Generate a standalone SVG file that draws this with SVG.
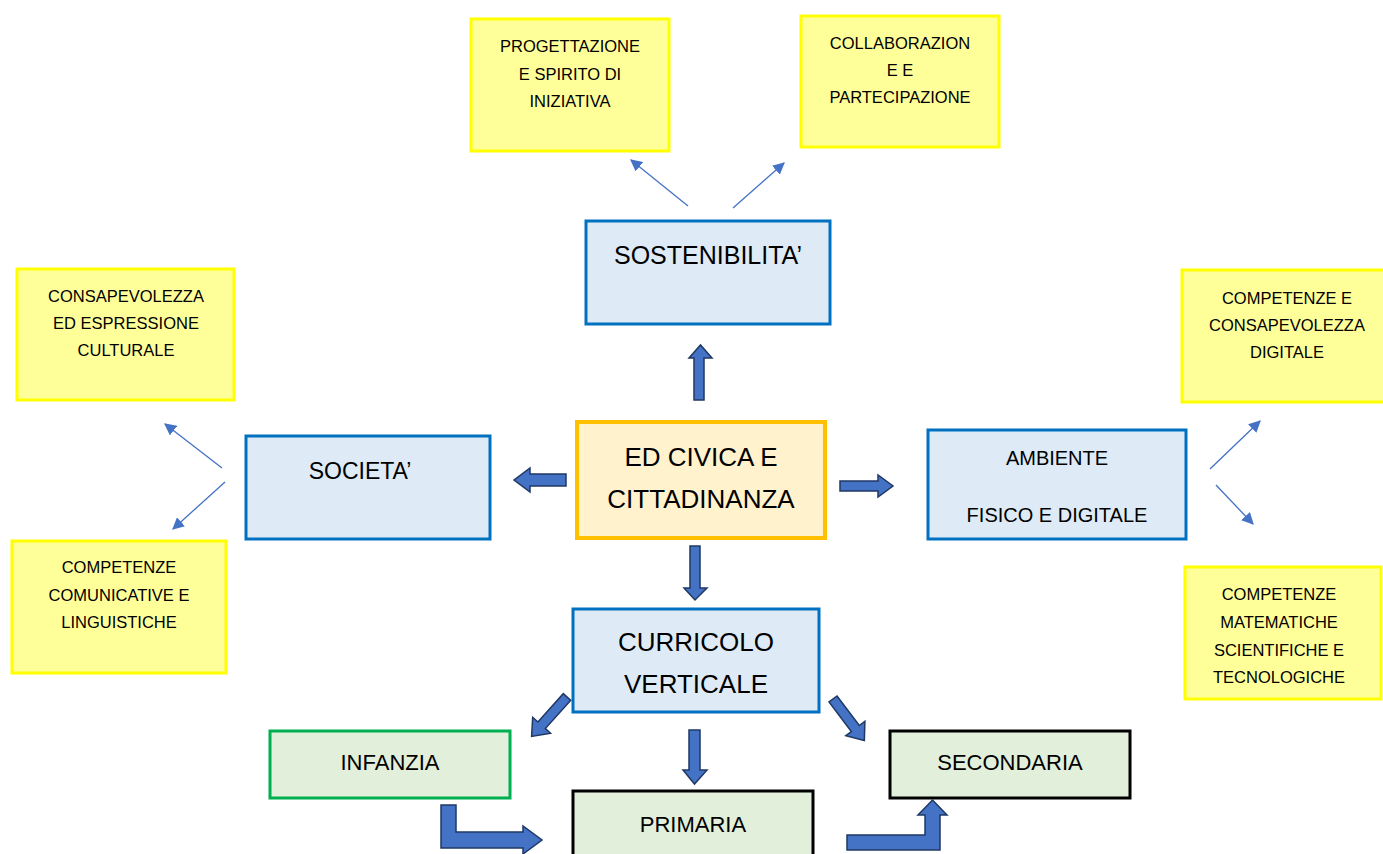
<svg xmlns="http://www.w3.org/2000/svg" width="1383" height="854" viewBox="0 0 1383 854">
<style>
.y{fill:#FFFF99;stroke:#FFFF00;stroke-width:3}
.b{fill:#DEEBF7;stroke:#0070C0;stroke-width:3}
.o{fill:#FFF2CC;stroke:#FFC000;stroke-width:4}
.g{fill:#E2EFDA;stroke:#000;stroke-width:3}
.gg{fill:#E2EFDA;stroke:#00B050;stroke-width:3}
text{font-family:"Liberation Sans",Arial,sans-serif;fill:#000;text-anchor:middle}
.s{font-size:16.5px}
.m{font-size:20px}
.l{font-size:25px}
.xl{font-size:26px}
.ba{fill:#4472C4;stroke:#1F3864;stroke-width:1.5;stroke-linejoin:miter}
.thin{stroke:#4472C4;stroke-width:1.3;fill:none;marker-end:url(#tri)}
</style>
<defs>
<marker id="tri" viewBox="0 0 10 10" refX="9" refY="5" markerWidth="12" markerHeight="12" markerUnits="userSpaceOnUse" orient="auto"><path d="M0,0 L10,5 L0,10 Z" fill="#4472C4"/></marker>
</defs>
<rect width="1383" height="854" fill="#fff"/>

<g id="n-progettazione"><rect class="y" x="471" y="19" width="198" height="132"/>
<text class="s" x="570" y="52">PROGETTAZIONE</text><text class="s" x="570" y="80">E SPIRITO DI</text><text class="s" x="570" y="107">INIZIATIVA</text></g>
<g id="n-collaborazione"><rect class="y" x="801" y="16" width="198" height="131"/>
<text class="s" x="900" y="49">COLLABORAZION</text><text class="s" x="900" y="76">E E</text><text class="s" x="900" y="103">PARTECIPAZIONE</text></g>
<g id="n-consapevolezza"><rect class="y" x="17" y="269" width="217" height="131"/>
<text class="s" x="126" y="302">CONSAPEVOLEZZA</text><text class="s" x="126" y="329">ED ESPRESSIONE</text><text class="s" x="126" y="356">CULTURALE</text></g>
<g id="n-comunicative"><rect class="y" x="12" y="541" width="214" height="132"/>
<text class="s" x="119" y="573">COMPETENZE</text><text class="s" x="119" y="601">COMUNICATIVE E</text><text class="s" x="119" y="628">LINGUISTICHE</text></g>
<g id="n-digitale"><rect class="y" x="1182" y="270" width="220" height="132"/>
<text class="s" x="1287" y="304">COMPETENZE  E</text><text class="s" x="1287" y="331">CONSAPEVOLEZZA</text><text class="s" x="1287" y="358">DIGITALE</text></g>
<g id="n-matematiche"><rect class="y" x="1185" y="567" width="196" height="132"/>
<text class="s" x="1279" y="600">COMPETENZE</text><text class="s" x="1279" y="628">MATEMATICHE</text><text class="s" x="1279" y="656">SCIENTIFICHE E</text><text class="s" x="1279" y="683">TECNOLOGICHE</text></g>

<g id="n-sostenibilita"><rect class="b" x="586" y="221" width="244" height="103"/><text class="l" x="708" y="264">SOSTENIBILITA’</text></g>
<g id="n-societa"><rect class="b" x="246" y="436" width="244" height="103"/><text class="l" x="360" y="479" style="font-size:23px">SOCIETA’</text></g>
<g id="n-ambiente"><rect class="b" x="928" y="430" width="258" height="109"/><text class="m" x="1057" y="465">AMBIENTE</text><text class="m" x="1057" y="522">FISICO E DIGITALE</text></g>
<g id="n-edcivica"><rect class="o" x="577" y="422" width="248" height="116"/><text class="xl" x="701" y="466">ED CIVICA E</text><text class="xl" x="701" y="508">CITTADINANZA</text></g>
<g id="n-curricolo"><rect class="b" x="573" y="609" width="246" height="103"/><text class="xl" x="696" y="651">CURRICOLO</text><text class="xl" x="696" y="693">VERTICALE</text></g>
<g id="n-infanzia"><rect class="gg" x="270" y="731" width="240" height="67"/><text class="m" x="390" y="770" style="font-size:22px">INFANZIA</text></g>
<g id="n-primaria"><rect class="g" x="573" y="791" width="240" height="80"/><text class="m" x="693" y="832" style="font-size:22px">PRIMARIA</text></g>
<g id="n-secondaria"><rect class="g" x="890" y="731" width="240" height="67"/><text class="m" x="1010" y="770" style="font-size:22px">SECONDARIA</text></g>

<g id="connectors">
<line class="thin" x1="688" y1="206" x2="631" y2="160"/>
<line class="thin" x1="733" y1="208" x2="784" y2="163"/>
<line class="thin" x1="222" y1="468" x2="165" y2="424"/>
<line class="thin" x1="225" y1="482" x2="173" y2="529"/>
<line class="thin" x1="1210" y1="469" x2="1260" y2="421"/>
<line class="thin" x1="1216" y1="485" x2="1253" y2="524"/>
<polygon class="ba" points="694,400 694,358 689,358 700.5,345 712,358 704,358 704,400"/>
<polygon class="ba" points="690,546 700,546 700,588 707,588 695,600 684,588 690,588"/>
<polygon class="ba" points="566,474 530,474 530,468 514,480 530,492 530,486 566,486"/>
<polygon class="ba" points="840,481 878,481 878,475 893,486 878,497 878,491 840,491"/>
<polygon class="ba" points="689,730 700,730 700,770 707,770 694.5,784 683,770 689,770"/>
<polygon class="ba" transform="translate(567,697) rotate(131.9)" points="0,-5 38,-5 38,-12 53,0 38,12 38,5 0,5"/>
<polygon class="ba" transform="translate(833,699) rotate(52.9)" points="0,-5 37,-5 37,-12 52,0 37,12 37,5 0,5"/>
<path class="ba" d="M441,805 H456 V832 H523 V826 L542,840 L523,854 V848 H441 Z"/>
<path class="ba" d="M847,835 H925 V815 H918 L932.5,800 L947,815 H940 V850 H847 Z"/>
</g>
</svg>
